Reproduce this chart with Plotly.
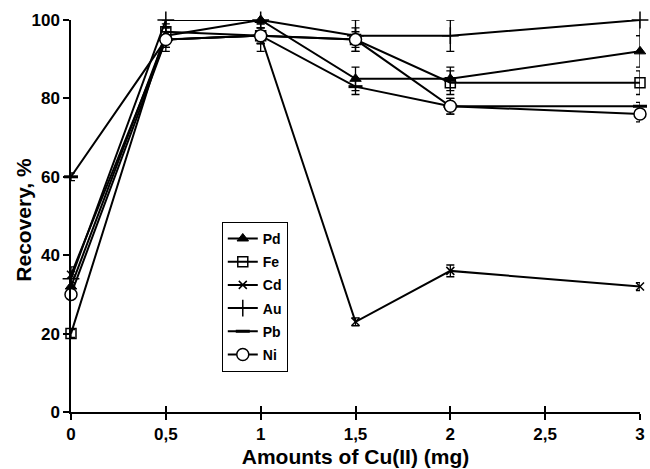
import plotly.graph_objects as go

x_vals = [0, 0.5, 1, 1.5, 2, 3]

pd_vals = [32, 96, 100, 85, 85, 92]
fe_vals = [20, 97, 96, 95, 84, 84]
cd_vals = [35, 95, 96, 23, 36, 32]
au_vals = [34, 100, 100, 96, 96, 100]
pb_vals = [60, 95, 96, 83, 78, 78]
ni_vals = [30, 95, 96, 95, 78, 76]

pd_err = [1, 2, 1, 3, 3, 4]
fe_err = [1, 3, 2, 3, 3, 3]
cd_err = [2, 3, 4, 1, 1.5, 1]
au_err = [1, 1, 1, 4, 4, 4]
pb_err = [1, 2, 2, 2, 2, 1]
ni_err = [1, 2, 2, 2, 2, 2]

x_ticks = [0, 0.5, 1, 1.5, 2, 2.5, 3]
x_ticktext = ["0", "0,5", "1", "1,5", "2", "2,5", "3"]
y_ticks = [0, 20, 40, 60, 80, 100]

series = [
    ("Pd", pd_vals, pd_err, dict(symbol="triangle-up", size=10, color="black",
                                  line=dict(color="black", width=1))),
    ("Fe", fe_vals, fe_err, dict(symbol="square-open", size=10, color="black",
                                  line=dict(color="black", width=1.5))),
    ("Cd", cd_vals, cd_err, dict(symbol="x-thin", size=8, color="black",
                                  line=dict(color="black", width=1.5))),
    ("Au", au_vals, au_err, dict(symbol="cross-thin", size=12, color="black",
                                  line=dict(color="black", width=1.5))),
    ("Pb", pb_vals, pb_err, dict(symbol="line-ew", size=10, color="black",
                                  line=dict(color="black", width=3))),
    ("Ni", ni_vals, ni_err, dict(symbol="circle", size=12, color="white",
                                  line=dict(color="black", width=1.5))),
]

fig = go.Figure()
for name, vals, err, mk in series:
    fig.add_trace(go.Scatter(
        x=x_vals, y=vals, name=name, mode="lines+markers",
        line=dict(color="black", width=2),
        marker=mk,
        error_y=dict(type="data", array=err, visible=True, color="black",
                     thickness=1.3, width=4),
        cliponaxis=False,
        legendgroup=name,
    ))

# invisible trace on secondary x axis to draw inward-pointing half of x ticks
fig.add_trace(go.Scatter(x=[0, 3], y=[None, None], xaxis="x2", showlegend=False,
                         hoverinfo="skip"))

font_family = "Liberation Sans, Arial, sans-serif"

fig.update_layout(
    width=650, height=469,
    margin=dict(l=71, r=10, t=20, b=57),
    paper_bgcolor="white", plot_bgcolor="white",
    font=dict(family=font_family, color="black", size=16, weight="bold"),
    showlegend=True,
    legend=dict(
        x=0.265, y=0.485, xanchor="left", yanchor="top",
        bordercolor="black", borderwidth=1, bgcolor="white",
        font=dict(size=14, family=font_family, weight="bold"),
        tracegroupgap=2, itemwidth=30,
    ),
    xaxis=dict(
        range=[0, 3], tickvals=x_ticks, ticktext=x_ticktext,
        showgrid=False, zeroline=False, showline=True, linecolor="black",
        linewidth=1.5, ticks="outside", ticklen=6, tickwidth=1.5,
        tickcolor="black", tickfont=dict(size=17, weight="bold"),
        title=dict(text="Amounts of Cu(II) (mg)",
                   font=dict(size=21, weight="bold"), standoff=6),
        automargin=False,
    ),
    xaxis2=dict(
        range=[0, 3], tickvals=x_ticks, overlaying="x", side="bottom",
        anchor="y", showticklabels=False, showgrid=False, zeroline=False,
        showline=False, ticks="inside", ticklen=6, tickwidth=1.5,
        tickcolor="black",
    ),
    yaxis=dict(
        range=[0, 100], tickvals=y_ticks,
        showgrid=False, zeroline=False, showline=True, linecolor="black",
        linewidth=1.5, ticks="outside", ticklen=6, tickwidth=1.5,
        tickcolor="black", tickfont=dict(size=17, weight="bold"),
        automargin=False,
    ),
    annotations=[dict(
        text="Recovery, %", textangle=-90, showarrow=False,
        xref="paper", yref="paper", x=-0.083, y=0.49,
        xanchor="center", yanchor="middle",
        font=dict(size=21, weight="bold", family=font_family, color="black"),
    )],
)

fig.write_html("out.html")
